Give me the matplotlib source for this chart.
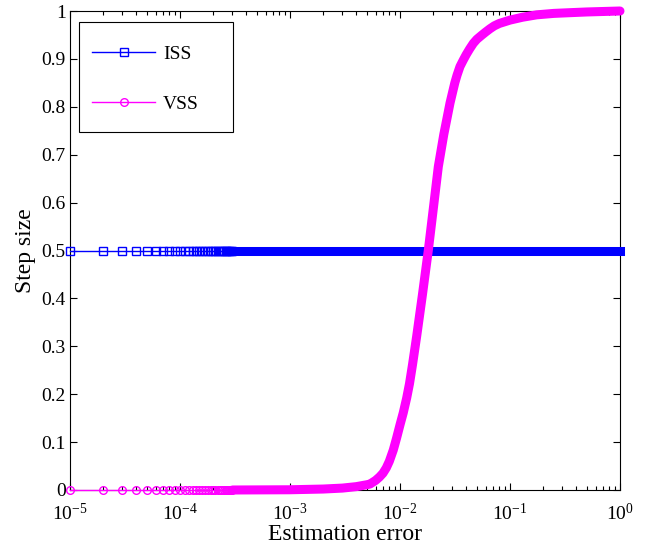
import matplotlib

matplotlib.use("Agg")
import matplotlib.pyplot as plt
from matplotlib.lines import Line2D
from matplotlib.patches import Rectangle
from matplotlib.ticker import FormatStrFormatter

plt.rcParams["font.family"] = ["Liberation Serif", "DejaVu Serif"]
plt.rcParams["mathtext.fontset"] = "custom"
plt.rcParams["mathtext.rm"] = "Liberation Serif"
plt.rcParams["axes.unicode_minus"] = False

# sample grid of the simulation near the left edge (units of 1e-5)
marker_steps = [1, 2, 3, 4, 5, 6, 7, 8, 9, 10, 11, 12, 13, 14, 15,
                16, 17, 18, 19, 20, 21, 22, 23, 24, 25, 26, 27, 28, 29, 30]
iss_level = 0.5
vss_start_level = 0.0

# VSS curve (estimation error, step size)
vss_x = [3e-4, 1e-3, 2e-3, 3e-3, 4e-3, 5e-3, 5.34e-3, 6e-3, 6.5e-3, 7e-3,
         7.5e-3, 8e-3, 8.69e-3, 9.3e-3, 1.0e-2, 1.07e-2, 1.15e-2, 1.22e-2,
         1.3e-2, 1.42e-2, 1.6e-2, 1.81e-2, 2.0e-2, 2.23e-2, 2.5e-2, 2.85e-2,
         3.15e-2, 3.3e-2, 3.51e-2, 3.75e-2, 4.0e-2, 4.3e-2, 4.64e-2, 5.0e-2,
         5.5e-2, 6.0e-2, 6.58e-2, 7.2e-2, 8e-2, 0.1, 0.13, 0.175, 0.25,
         0.351, 0.5, 1.0]
vss_y = [0.0, 0.0005, 0.002, 0.004, 0.007, 0.011, 0.0125, 0.02, 0.027, 0.035,
         0.046, 0.06, 0.0835, 0.108, 0.136, 0.161, 0.192, 0.222,
         0.262, 0.322, 0.408, 0.501, 0.584, 0.675, 0.742, 0.808,
         0.85, 0.866, 0.884, 0.897, 0.909, 0.921, 0.9325, 0.941,
         0.949, 0.956, 0.963, 0.969, 0.974, 0.981, 0.987, 0.992, 0.995,
         0.9965, 0.998, 1.0]

iss_x = [3e-4, 1.0]
iss_y = [iss_level, iss_level]

BLUE = "#0000FF"
MAGENTA = "#FF00FF"
MS = 5.5
BAND = 6.5

fig = plt.figure(figsize=(6.52, 5.46), dpi=100)
ax = fig.add_axes([70 / 652, 1 - 490 / 546, 550 / 652, 479 / 546])

step_x = [s * 1e-5 for s in marker_steps]

# ISS: sparse markers, then the dense marker band
ax.plot(step_x, [iss_level] * len(step_x), color=BLUE, lw=1, marker="s",
        ms=MS, mfc="none", mec=BLUE, mew=1, clip_on=False, zorder=3)
ax.plot(iss_x, iss_y, color=BLUE, lw=BAND, solid_capstyle="projecting",
        clip_on=False, zorder=3)

# VSS
ax.plot(step_x, [vss_start_level] * len(step_x), color=MAGENTA, lw=1,
        marker="o", ms=MS, mfc="none", mec=MAGENTA, mew=1, clip_on=False,
        zorder=3)
ax.plot(vss_x, vss_y, color=MAGENTA, lw=BAND, solid_capstyle="round",
        solid_joinstyle="round", clip_on=False, zorder=3)

ax.set_xscale("log")
ax.set_xlim(1e-5, 1)
ax.set_ylim(0, 1)
ax.set_yticks([0, 0.1, 0.2, 0.3, 0.4, 0.5, 0.6, 0.7, 0.8, 0.9, 1.0])
ax.yaxis.set_major_formatter(FormatStrFormatter("%g"))

ax.tick_params(which="both", direction="in", top=True, right=True,
               width=0.8, labelsize=14)
ax.tick_params(axis="y", pad=3)
ax.tick_params(axis="x", pad=9)
ax.tick_params(which="major", length=5)
ax.tick_params(which="minor", length=3)
for sp in ax.spines.values():
    sp.set_linewidth(0.8)

ax.set_xlabel("Estimation error", fontsize=17, labelpad=0)
ax.set_ylabel("Step size", fontsize=17, labelpad=4)

# legend box drawn MATLAB style
ax.add_patch(Rectangle((79 / 652, 1 - 132 / 546), 154 / 652, 110 / 546,
                       transform=fig.transFigure, facecolor="white",
                       edgecolor="black", lw=0.8, clip_on=False, zorder=4))
handles = [
    Line2D([], [], color=BLUE, lw=1, marker="s", ms=MS, mfc="none", mew=1),
    Line2D([], [], color=MAGENTA, lw=1, marker="o", ms=MS, mfc="none", mew=1),
]
ax.legend(handles, ["ISS", "VSS"], loc="upper left",
          bbox_to_anchor=(92 / 652, 1 - 45 / 546),
          bbox_transform=fig.transFigure, frameon=False, fontsize=14,
          borderpad=0, borderaxespad=0, handlelength=3.25,
          handletextpad=0.4, labelspacing=1.7, numpoints=1)

fig.savefig("out.png", dpi=100)
